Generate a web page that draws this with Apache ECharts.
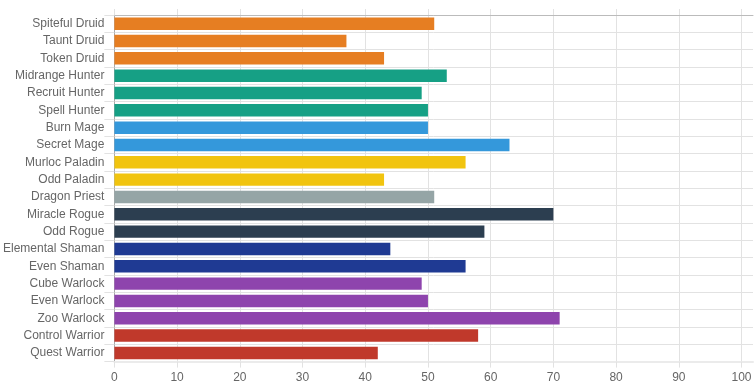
<!DOCTYPE html>
<html>
<head>
<meta charset="utf-8">
<script src="https://cdn.jsdelivr.net/npm/echarts@6/dist/echarts.min.js"></script>
<style>
html,body{margin:0;padding:0;background:#fff;}
#chart{width:756px;height:390px;}
</style>
</head>
<body>
<div id="chart"></div>
<script>
const categories = ["Spiteful Druid","Taunt Druid","Token Druid","Midrange Hunter","Recruit Hunter","Spell Hunter","Burn Mage","Secret Mage","Murloc Paladin","Odd Paladin","Dragon Priest","Miracle Rogue","Odd Rogue","Elemental Shaman","Even Shaman","Cube Warlock","Even Warlock","Zoo Warlock","Control Warrior","Quest Warrior"];
const values = [51,37,43,53,49,50,50,63,56,43,51,70,59,44,56,49,50,71,58,42];
const xTicks = [0,10,20,30,40,50,60,70,80,90,100];

const barColors = ["#e67e22","#e67e22","#e67e22","#16a085","#16a085","#16a085","#3498db","#3498db","#f1c40f","#f1c40f","#95a5a6","#2c3e50","#2c3e50","#1f3a93","#1f3a93","#8e44ad","#8e44ad","#8e44ad","#c0392b","#c0392b"];

const font = "'Liberation Sans', Arial, sans-serif";
const gridColor = "#e2e2e2";
const chart = echarts.init(document.getElementById('chart'), null, {renderer:'canvas'});
chart.setOption({
  animation:false,
  grid:{left:114, right:3, top:15, bottom:28.4, containLabel:false},
  xAxis:[{
    type:'value', position:'bottom', min:0, max:101.83, interval:10,
    axisLine:{show:true, lineStyle:{color:'#ebebeb', width:2}},
    axisTick:{show:true, length:6, customValues:xTicks, lineStyle:{color:gridColor}},
    axisLabel:{show:true, customValues:xTicks, color:'#666', fontSize:12, fontFamily:font, margin:10},
    splitLine:{show:true, lineStyle:{color:gridColor}}
  },{
    type:'value', position:'top', min:0, max:101.83, interval:10,
    axisLine:{show:true, lineStyle:{color:'#bbbbbb', width:1}},
    axisTick:{show:true, length:6, customValues:xTicks, lineStyle:{color:gridColor}},
    axisLabel:{show:false},
    splitLine:{show:false}
  }],
  yAxis:{
    type:'category', inverse:true, data:categories,
    axisLine:{show:true, lineStyle:{color:'#aaaaaa'}},
    axisTick:{show:true, length:10, lineStyle:{color:gridColor}},
    axisLabel:{color:'#666', fontSize:12, fontFamily:font, margin:10},
    splitLine:{show:true, lineStyle:{color:gridColor}}
  },
  series:[{
    type:'bar', xAxisIndex:0,
    barCategoryGap:'28%',
    data: values.map((v,i)=>({value:v, itemStyle:{color:barColors[i]}}))
  }]
});
</script>
</body>
</html>
